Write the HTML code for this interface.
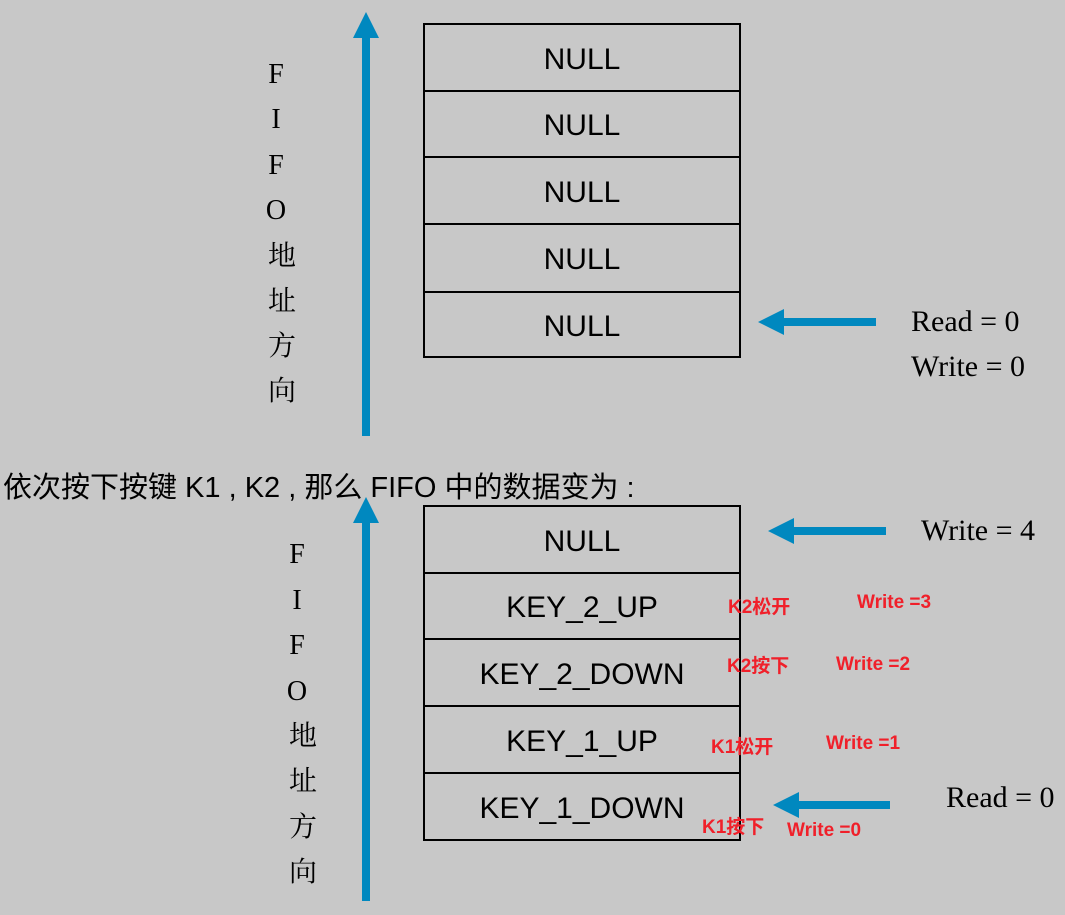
<!DOCTYPE html>
<html><head><meta charset="utf-8"><style>
body{margin:0;width:1065px;height:915px;background:#c8c8c8;position:relative;overflow:hidden;font-family:"Liberation Sans","Noto Sans CJK SC",sans-serif}
.cell{position:absolute;left:423px;width:318px;border:2px solid #000;box-sizing:border-box;display:flex;align-items:center;justify-content:center;font-size:30px;color:#000;padding-top:4px}
.v{position:absolute;font-family:"Liberation Serif","Noto Serif CJK SC",serif;font-size:28px;width:30px;text-align:center;line-height:1}
.s{position:absolute;font-family:"Liberation Serif",serif;font-size:30px;white-space:nowrap}
.r{position:absolute;color:#f0202a;font-weight:bold;font-size:19px;white-space:nowrap;font-family:"Liberation Sans","Noto Sans CJK SC",sans-serif}
</style></head><body>
<svg width="1065" height="915" style="position:absolute;left:0;top:0">
<g fill="#0088bf">
<rect x="362" y="34" width="8" height="402"/><polygon points="366,12 353,38 379,38"/>
<rect x="362" y="520" width="8" height="381"/><polygon points="366,497 353,523 379,523"/>
<rect x="782" y="318" width="94" height="8"/><polygon points="758,322 784,309 784,335"/>
<rect x="792" y="527" width="94" height="8"/><polygon points="768,531 794,518 794,544"/>
<rect x="797" y="801" width="93" height="8"/><polygon points="773,805 799,792 799,818"/>
</g></svg>
<div class="cell" style="top:23px;height:69px">NULL</div>
<div class="cell" style="top:90px;height:68px">NULL</div>
<div class="cell" style="top:156px;height:69px">NULL</div>
<div class="cell" style="top:223px;height:70px">NULL</div>
<div class="cell" style="top:291px;height:67px">NULL</div>

<div class="cell" style="top:505px;height:69px">NULL</div>
<div class="cell" style="top:572px;height:68px">KEY_2_UP</div>
<div class="cell" style="top:638px;height:69px">KEY_2_DOWN</div>
<div class="cell" style="top:705px;height:69px">KEY_1_UP</div>
<div class="cell" style="top:772px;height:69px">KEY_1_DOWN</div>

<div class="v" style="left:261px;top:61px">F</div>
<div class="v" style="left:261px;top:106px">I</div>
<div class="v" style="left:261px;top:152px">F</div>
<div class="v" style="left:261px;top:197px">O</div>
<div class="v" style="left:267px;top:243px">地</div>
<div class="v" style="left:267px;top:288px">址</div>
<div class="v" style="left:267px;top:333px">方</div>
<div class="v" style="left:267px;top:378px">向</div>

<div class="v" style="left:282px;top:541px">F</div>
<div class="v" style="left:282px;top:587px">I</div>
<div class="v" style="left:282px;top:632px">F</div>
<div class="v" style="left:282px;top:678px">O</div>
<div class="v" style="left:288px;top:723px">地</div>
<div class="v" style="left:288px;top:768px">址</div>
<div class="v" style="left:288px;top:814px">方</div>
<div class="v" style="left:288px;top:859px">向</div>

<div class="s" style="left:911px;top:305px">Read = 0</div>
<div class="s" style="left:911px;top:350px">Write = 0</div>
<div class="s" style="left:921px;top:514px">Write = 4</div>
<div class="s" style="left:946px;top:781px">Read = 0</div>

<div style="position:absolute;left:3px;top:464px;font-size:29px;white-space:nowrap">依次按下按键 K1 , K2 , 那么 FIFO 中的数据变为 :</div>

<div class="r" style="left:728px;top:592px">K2松开</div>
<div class="r" style="left:857px;top:592px">Write =3</div>
<div class="r" style="left:727px;top:651px">K2按下</div>
<div class="r" style="left:836px;top:654px">Write =2</div>
<div class="r" style="left:711px;top:732px">K1松开</div>
<div class="r" style="left:826px;top:733px">Write =1</div>
<div class="r" style="left:702px;top:812px">K1按下</div>
<div class="r" style="left:787px;top:820px">Write =0</div>
</body></html>
